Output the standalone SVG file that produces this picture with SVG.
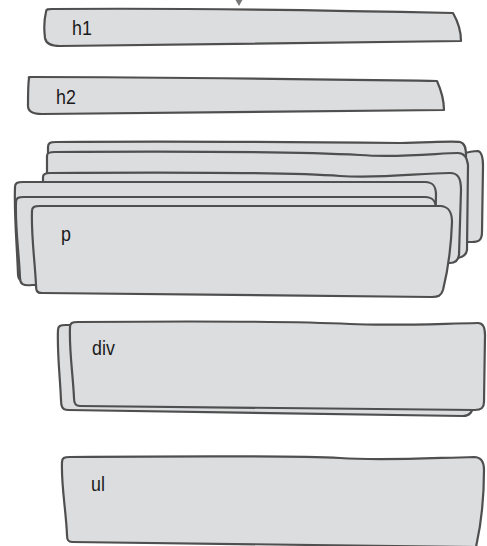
<svg xmlns="http://www.w3.org/2000/svg" width="487" height="546" viewBox="0 0 487 546">
<style>
.b{fill:#dcdddf;stroke:#4f4f4f;stroke-width:2.2;stroke-linejoin:round}
.t{font-family:"Liberation Sans",Arial,sans-serif;font-size:21px;fill:#1a1a1a}
</style>
<rect width="487" height="546" fill="#ffffff"/>
<g id="connectors">
<path d="M239,-10 L239,2" stroke="#777" stroke-width="1.5" fill="none"/>
<polygon points="235,-1 243,-1 239,6" fill="#777"/>
</g>
<g id="h1">
<path class="b" d="M46,12 C46,9 48,9 52,9 C180,8 320,10 453,13 C457,20 461,30 461,41 C320,42 180,45 60,46 C52,46 46,44 45,38 C44,30 44,20 46,12 Z"/>
<text class="t" transform="translate(72,35) scale(0.85,1)">h1</text>
</g>
<g id="h2">
<path class="b" d="M29,78 C28,77 30,77 32,77 C170,77 300,79 437,81 C441,90 444,100 444,110 C300,111 170,113 42,114 C33,114 28,112 28,106 C28,95 28,85 29,78 Z"/>
<text class="t" transform="translate(56,104) scale(0.85,1)">h2</text>
</g>
<g id="p">
<path class="b" d="M462,154 C468,152 474,151 478,151 C482,152 483,158 483,166 L482,232 C482,240 479,242 472,242 L462,242 Z"/>
<path class="b" d="M48,147 C48,143 50,142 56,142 C200,141 300,142 400,143 C440,142 454,141 460,142 C465,143 466,148 466,156 L465,245 C465,251 461,253 455,253 L60,255 C50,255 48,252 48,248 Z"/>
<path class="b" d="M47,156 C47,153 49,152 55,152 C200,151 300,152 360,155 C400,158 440,153 458,153 C464,153 467,157 468,165 L467,250 C466,256 462,258 455,258 L60,258 C50,258 47,256 47,250 Z"/>
<path class="b" d="M43,177 C43,174 45,173 50,173 C200,172 300,173 340,176 C380,179 420,173 450,173 C458,173 461,178 461,190 L459,255 C458,261 455,263 450,263 L55,263 C46,263 43,261 43,255 Z"/>
<path class="b" d="M15,187 C15,183 17,182 23,182 C200,181 330,181 425,182 C433,182 436,186 436,195 L434,270 C433,276 430,278 425,278 L30,281 C21,282 18,280 18,274 C17,245 14,215 15,187 Z"/>
<path class="b" d="M16,202 C16,198 18,197 24,197 C200,196 330,197 425,197 C433,197 436,201 436,210 L434,276 C433,282 430,284 425,284 L32,285 C23,286 20,284 20,278 C19,252 15,228 16,202 Z"/>
<path class="b" d="M32,211 C32,207 34,206 40,206 C200,205 330,206 441,206 C449,207 452,212 452,222 C451,250 448,270 443,290 C441,296 438,297 432,297 L42,293 C37,293 36,291 36,285 C35,262 31,235 32,211 Z"/>
<text class="t" transform="translate(61,241) scale(0.85,1)">p</text>
</g>
<g id="div">
<path class="b" d="M58,330 C58,326 60,325 66,325 C200,324 330,326 465,327 C472,328 474,333 474,340 L473,404 C473,412 470,416 463,416 L68,410 C62,410 61,406 61,400 C60,376 57,352 58,330 Z"/>
<path class="b" d="M70,327 C70,323 72,322 78,322 C200,321 310,322 350,324 C390,326 430,324 478,323 C483,323 485,327 485,335 L484,402 C484,408 481,410 475,410 L80,406 C75,406 74,403 74,398 C73,375 69,350 70,327 Z"/>
<text class="t" transform="translate(92,355) scale(0.85,1)">div</text>
</g>
<g id="ul">
<path class="b" d="M62,462 C62,458 64,457 70,457 C200,456 300,456 340,458 C380,461 430,458 474,457 C481,457 484,462 484,470 C484,500 481,525 476,547 L72,542 C68,542 67,540 67,535 C66,510 61,485 62,462 Z"/>
<text class="t" transform="translate(91,491) scale(0.85,1)">ul</text>
</g>
</svg>
